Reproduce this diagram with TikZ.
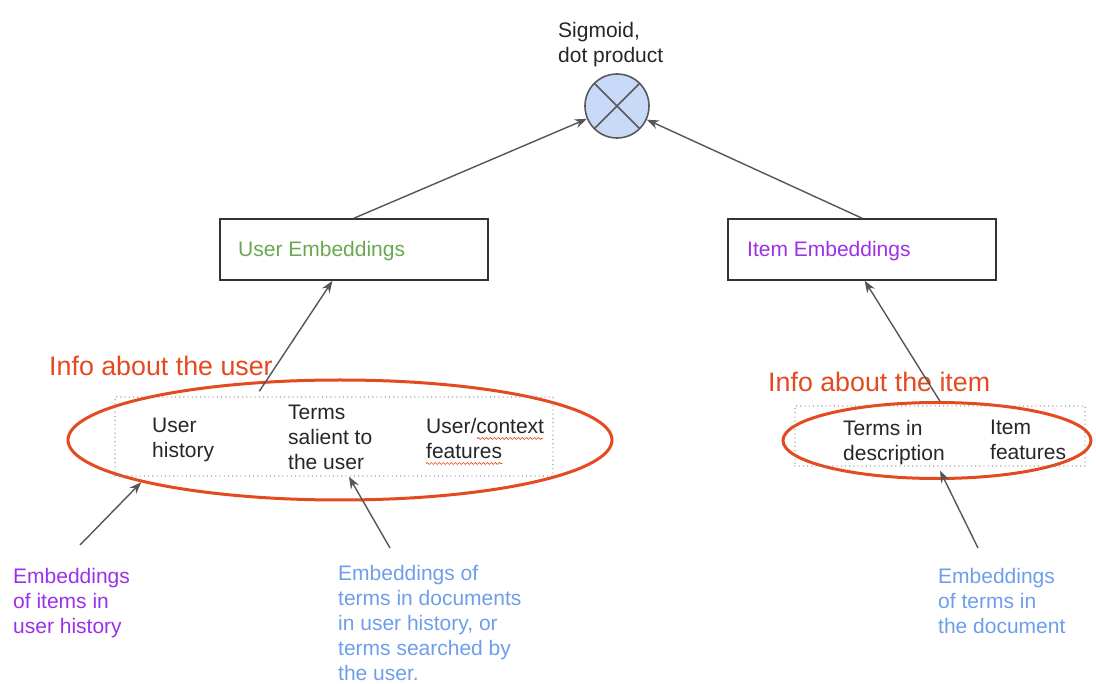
\documentclass[tikz,border=0pt]{standalone}
\usepackage{fontspec}
\setmainfont{Liberation Sans}
\usetikzlibrary{arrows.meta,shapes.geometric,calc,decorations.pathmorphing}

\definecolor{boxline}{HTML}{333333}
\definecolor{arrowgray}{HTML}{555555}
\definecolor{dotgray}{HTML}{8C8C8C}
\definecolor{ringred}{HTML}{E4491F}
\definecolor{usergreen}{HTML}{6AA84F}
\definecolor{itempurple}{HTML}{9B30E8}
\definecolor{termblue}{HTML}{6D9EEB}
\definecolor{mixfill}{HTML}{C9DAF8}
\definecolor{mixline}{HTML}{595959}

\tikzset{
  txt/.style={inner sep=0pt, align=left, font=\fontsize{21}{25}\selectfont, text=black!85},
  heading/.style={inner sep=0pt, font=\fontsize{26.8}{30}\selectfont, text=ringred},
  embbox/.style={draw=boxline, line width=1.6pt, minimum width=268pt, minimum height=61pt, inner sep=0pt},
  dotbox/.style={draw=dotgray, line width=1.4pt, line cap=round, dash pattern=on 0pt off 4.2pt, inner sep=0pt},
  ring/.style={ellipse, draw=ringred, line width=3pt, inner sep=0pt},
  arr/.style={draw=arrowgray, line width=1.4pt, -{Stealth[length=12pt,width=9pt]}},
  spell/.style={draw=ringred, line width=0.7pt, decorate, decoration={snake, segment length=4pt, amplitude=1pt}},
}

\begin{document}
\begin{tikzpicture}[x=1pt, y=-1pt]
\useasboundingbox (0,0) rectangle (1096,684);

% combining step
\node[circle, draw=mixline, fill=mixfill, line width=1.6pt, minimum size=64pt, inner sep=0pt,
      path picture={\draw[mixline, line width=1.6pt]
        (path picture bounding box.north west) -- (path picture bounding box.south east)
        (path picture bounding box.south west) -- (path picture bounding box.north east);}]
      (mix) at (617,106) {};
\node[txt, anchor=north west] (mixlabel) at (558,22) {Sigmoid,\\dot product};

% embedding towers
\node[embbox] (ue) at (354,249.5) {};
\node[anchor=base west, inner sep=0pt, font=\fontsize{21}{25}\selectfont, text=usergreen] (uelabel) at (238,257) {User Embeddings};
\node[embbox] (ie) at (862,249.5) {};
\node[anchor=base west, inner sep=0pt, font=\fontsize{21}{25}\selectfont, text=itempurple] (ielabel) at (747,257) {Item Embeddings};

% user side inputs
\node[heading, anchor=base west] (uhead) at (49,376) {Info about the user};
\node[ring, minimum width=544pt, minimum height=120pt] (uring) at (340,440) {};
\node[dotbox, minimum width=438pt, minimum height=79pt] (ufeat) at (334,436.5) {};
\node[txt, anchor=north west] (uhist) at (152,418) {User\\history};
\node[txt, anchor=north west] (uterms) at (288,405) {Terms\\salient to\\the user};
\node[txt, anchor=north west] (uctx) at (426,418) {User/context\\features};
\draw[spell] (477,438.5) -- (543,438.5);
\draw[spell] (426,463.5) -- (502,463.5);

% item side inputs
\node[heading, anchor=base west] (ihead) at (768,392) {Info about the item};
\node[ring, minimum width=308pt, minimum height=76pt] (iring) at (937,440.5) {};
\node[dotbox, minimum width=290pt, minimum height=60pt] (ifeat) at (940,436) {};
\node[txt, anchor=north west] (idesc) at (843,420) {Terms in\\description};
\node[txt, anchor=north west] (ifeatlabel) at (990,420) {Item\\features};

% sources of the embeddings
\node[txt, anchor=north west, text=itempurple] (srcitems) at (13,568) {Embeddings\\of items in\\user history};
\node[txt, anchor=north west, text=termblue] (srcterms) at (338,565) {Embeddings of\\terms in documents\\in user history, or\\terms searched by\\the user.};
\node[txt, anchor=north west, text=termblue] (srcdoc) at (938,568) {Embeddings\\of terms in\\the document};

\coordinate (fromitems) at (80,545);
\coordinate (fromterms) at (390,548);
\coordinate (fromdoc) at (978,548);

% connectors
\draw[arr] (ue.north) -- (mix);
\draw[arr] (ie.north) -- (mix);
\draw[arr] ([yshift=5pt]$(ufeat.north west)!0.33!(ufeat.north east)$) -- ($(ue.south west)!0.42!(ue.south east)$);
\draw[arr] ([yshift=4pt]ifeat.north) -- ($(ie.south west)!0.51!(ie.south east)$);
\draw[arr] (fromitems) -- (uring.192);
\draw[arr] (fromterms) -- ($(ufeat.south west)!0.534!(ufeat.south east)$);
\draw[arr] (fromdoc) -- ([yshift=-4pt]ifeat.south);
\end{tikzpicture}
\end{document}
